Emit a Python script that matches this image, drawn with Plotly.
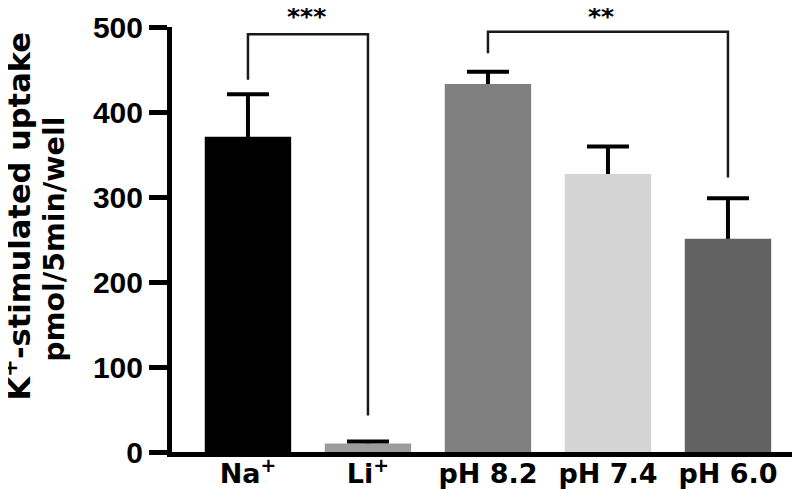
import plotly.graph_objects as go

categories = ["Na<sup>+</sup>", "Li<sup>+</sup>", "pH 8.2", "pH 7.4", "pH 6.0"]
values = [371, 10, 433, 327, 251]
errors = [50, 2.5, 14.5, 32.5, 47.5]
colors = ["#000000", "#9c9ca0", "#808080", "#d4d4d4", "#626262"]
y_ticks = [0, 100, 200, 300, 400, 500]

# significance brackets: (left index, right index, top level, left arm bottom, right arm bottom, label, label x)
brackets = [
    (0, 1, 491.5, 438, 43, "***", 0.49),
    (2, 4, 494.4, 469, 323, "**", 2.94),
]

xpos = list(range(len(categories)))

fig = go.Figure()
# error bars (drawn first, lower half hidden behind the bars)
fig.add_trace(go.Bar(
    x=xpos, y=values,
    marker=dict(color="rgba(0,0,0,0)", line=dict(width=0)),
    width=0.72, hoverinfo="skip",
    error_y=dict(type="data", array=errors,
                 color="#000000", thickness=4, width=21),
))
# visible bars
fig.add_trace(go.Bar(
    x=xpos, y=values,
    marker=dict(color=colors, line=dict(width=0)),
    width=0.72,
))

shapes = []
annotations = []
for (a, b, top, la, rb, lab, lx) in brackets:
    shapes.append(dict(type="path", xref="x", yref="y",
                       path=f"M {a},{la} L {a},{top} L {b},{top} L {b},{rb}",
                       line=dict(color="#1a1a1a", width=2.5)))
    annotations.append(dict(x=lx, y=1.0, xref="x", yref="paper", text=lab,
                            showarrow=False, yanchor="middle", yshift=11,
                            font=dict(family="DejaVu Sans", size=25, color="#000000", weight="bold")))

annotations.append(dict(x=-0.243, y=0.555, xref="paper", yref="paper",
                        text="K<sup>+</sup>-stimulated uptake", textangle=-90,
                        showarrow=False, xanchor="center", yanchor="middle",
                        font=dict(family="DejaVu Sans", size=30.5, color="#000000", weight="bold")))
annotations.append(dict(x=-0.184, y=0.502, xref="paper", yref="paper",
                        text="pmol/5min/well", textangle=-90,
                        showarrow=False, xanchor="center", yanchor="middle",
                        font=dict(family="DejaVu Sans", size=28.5, color="#000000", weight="bold")))

fig.update_layout(
    width=800, height=489,
    margin=dict(l=164, r=0, t=19, b=45),
    paper_bgcolor="white", plot_bgcolor="white",
    showlegend=False, barmode="overlay",
    shapes=shapes, annotations=annotations,
    xaxis=dict(range=[-0.633, 4.667], tickvals=xpos, ticktext=categories,
               showline=True, linecolor="black", linewidth=5, ticks="",
               showgrid=False, zeroline=False, ticklabelstandoff=-6,
               tickfont=dict(family="DejaVu Sans", size=27, color="black", weight="bold")),
    yaxis=dict(range=[0, 500], tickvals=y_ticks,
               showline=True, linecolor="black", linewidth=5,
               ticks="outside", ticklen=18, tickwidth=5, tickcolor="black",
               showgrid=False, zeroline=False,
               tickfont=dict(family="Liberation Sans", size=30, color="black", weight="bold")),
)

fig.write_html("out.html")
